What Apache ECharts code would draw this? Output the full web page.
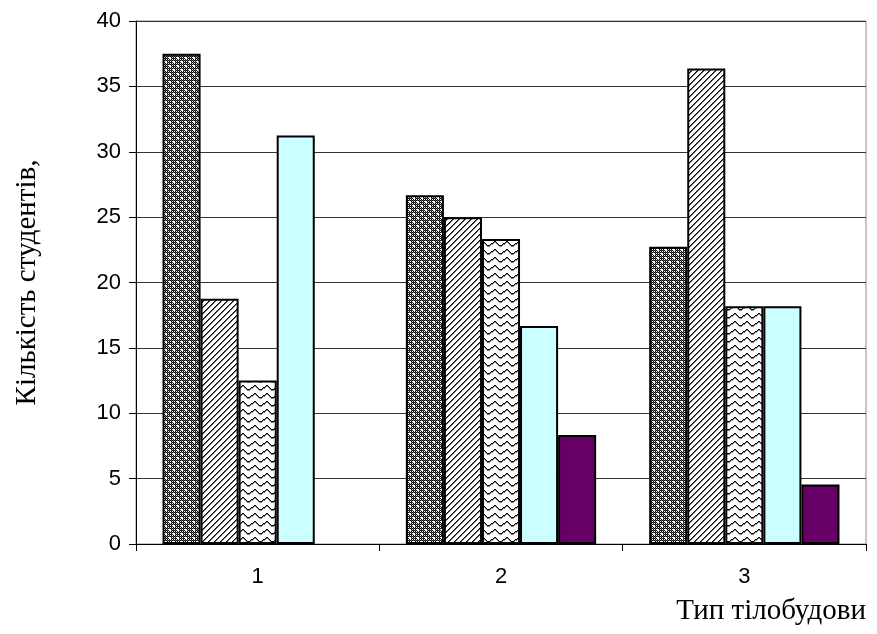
<!DOCTYPE html>
<html>
<head>
<meta charset="utf-8">
<script src="https://cdn.jsdelivr.net/npm/echarts@6/dist/echarts.min.js"></script>
<style>
  html, body { margin: 0; padding: 0; background: #fff; }
  #chart { width: 877px; height: 634px; }
</style>
</head>
<body>
<div id="chart"></div>
<script>
// Body type categories and the share of students in each group
const categories = ['1', '2', '3'];
const seriesA = [37.5, 26.67, 22.73];
const seriesB = [18.75, 25.0, 36.36];
const seriesC = [12.5, 23.33, 18.18];
const seriesD = [31.25, 16.67, 18.18];
const seriesE = [0, 8.33, 4.55];
const yTicks = { min: 0, max: 40, interval: 5 };

// Small pixel tiles used as hatch fills
function makeTile(w, h, draw) {
  const c = document.createElement('canvas');
  c.width = w; c.height = h;
  const ctx = c.getContext('2d');
  ctx.fillStyle = '#fff';
  ctx.fillRect(0, 0, w, h);
  draw(ctx);
  return c;
}

// Dense checker with small white dots
const checkerTile = makeTile(8, 8, ctx => {
  ctx.fillStyle = '#000';
  for (let y = 0; y < 8; y++)
    for (let x = 0; x < 8; x++)
      if ((x + y) % 2 === 0) ctx.fillRect(x, y, 1, 1);
  ctx.fillStyle = '#555';
  for (let y = 0; y < 8; y += 2)
    for (let x = 1; x < 8; x += 2) ctx.fillRect(x, y, 1, 1);
  ctx.fillStyle = '#fff';
  ctx.fillRect(1, 1, 2, 2);
  ctx.fillRect(5, 5, 2, 2);
});

// Diagonal stripes rising to the right
const diagTile = makeTile(6, 6, ctx => {
  ctx.fillStyle = '#000';
  for (let i = 0; i < 6; i++) ctx.fillRect(5 - i, i, 1, 1);
  ctx.fillStyle = '#666';
  for (let i = 0; i < 6; i++) ctx.fillRect((6 - i) % 6, i, 1, 1);
});

// Wavy lines
const waveTile = makeTile(12, 8, ctx => {
  const ys = [3, 2, 1, 1, 2, 3, 4, 5, 5, 5, 4, 3];
  ys.forEach((y, x) => {
    ctx.fillStyle = '#000';
    ctx.fillRect(x, y, 1, 1);
    ctx.fillStyle = '#888';
    ctx.fillRect(x, y + 1, 1, 1);
  });
});

const pat = c => ({ image: c, repeat: 'repeat' });

// Zero-height bars are left empty rather than drawn as a flat outline
function bar(data, fill) {
  return {
    type: 'bar',
    barGap: '0%',
    barCategoryGap: '21.8%',
    data: data.map(v => (v === 0 ? '-' : v)),
    itemStyle: { color: fill, borderColor: '#000', borderWidth: 2 }
  };
}

const chart = echarts.init(document.getElementById('chart'), null, { renderer: 'canvas' });
chart.setOption({
  backgroundColor: '#fff',
  animation: false,
  grid: {
    left: 136, right: 11, top: 21, bottom: 90,
    show: true, borderColor: '#8c8c8c', borderWidth: 1
  },
  xAxis: {
    type: 'category',
    data: categories,
    axisLine: { lineStyle: { color: '#000', width: 1 } },
    axisTick: { show: true, length: 7, lineStyle: { color: '#000' } },
    axisLabel: {
      color: '#000', fontFamily: 'Liberation Sans', fontSize: 22, margin: 22
    }
  },
  yAxis: {
    type: 'value',
    min: yTicks.min, max: yTicks.max, interval: yTicks.interval,
    name: 'Кількість студентів,',
    nameLocation: 'middle',
    nameRotate: 90,
    nameGap: 94,
    nameTextStyle: { color: '#000', fontFamily: 'Liberation Serif', fontSize: 29 },
    axisLine: { show: true, lineStyle: { color: '#000', width: 1 } },
    axisTick: { show: true, length: 7, lineStyle: { color: '#000' } },
    axisLabel: {
      color: '#000', fontFamily: 'Liberation Sans', fontSize: 22, margin: 15
    },
    splitLine: { lineStyle: { color: '#333', width: 1 } }
  },
  graphic: [{
    type: 'text',
    right: 11,
    top: 597,
    style: {
      text: 'Тип тілобудови',
      fill: '#000',
      font: '29px "Liberation Serif"'
    }
  }],
  series: [
    bar(seriesA, pat(checkerTile)),
    bar(seriesB, pat(diagTile)),
    bar(seriesC, pat(waveTile)),
    bar(seriesD, '#ccffff'),
    bar(seriesE, '#660066')
  ]
});
</script>
</body>
</html>
